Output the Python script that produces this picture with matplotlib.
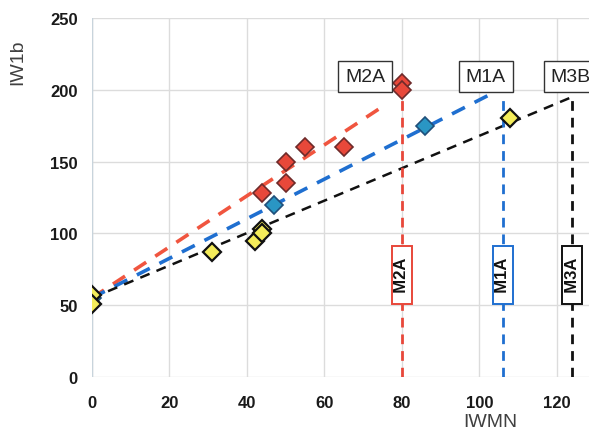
import matplotlib.pyplot as plt

# measured points per group
red_x = [44, 50, 50, 55, 65, 80, 80]
red_y = [128, 150, 135, 160, 160, 205, 200]
blue_x = [0, 47, 86]
blue_y = [55, 120, 175]
yel_x = [0, 0, 31, 42, 44, 44, 108]
yel_y = [57, 51, 87, 95, 103, 100, 180]

# dashed trend lines (start, end)
fit_m2a_x = [0, 76]
fit_m2a_y = [55, 190]
fit_m1a_x = [0, 103]
fit_m1a_y = [55, 197]
fit_m3_x = [0, 124]
fit_m3_y = [55, 195]

# vertical markers: x position and top
vx = [80, 106, 124]
vtop = [200, 194, 195]
vnames = ['M2A', 'M1A', 'M3A']
vcolors = ['#e8473a', '#1f6fd0', '#111111']

# top labels
top_names = ['M2A', 'M1A', 'M3B']
top_x = [70.5, 101.7, 123.5]
top_y = 209

xticks = [0, 20, 40, 60, 80, 100, 120]
yticks = [0, 50, 100, 150, 200, 250]

plt.rcParams['font.family'] = ['Liberation Sans', 'DejaVu Sans']

fig = plt.figure(figsize=(5.89, 4.39), dpi=100)
ax = fig.add_axes([0.156, 0.139, 0.844, 0.818])
ax.set_xlim(0, 128.3)
ax.set_ylim(0, 250)

for s in ax.spines.values():
    s.set_visible(False)
ax.set_xticks(xticks)
ax.set_yticks(yticks)
ax.tick_params(length=0, labelsize=12, colors='#1a1a1a')
ax.tick_params(axis='x', pad=13)
ax.tick_params(axis='y', pad=10)
for lab in ax.get_xticklabels() + ax.get_yticklabels():
    lab.set_fontweight('bold')
ax.grid(True, color='#dcdcdc', linewidth=1)
ax.axvline(0, color='#c8d4dc', linewidth=1, zorder=1)
ax.set_axisbelow(True)

ax.plot(fit_m2a_x, fit_m2a_y, color='#f0553f', linewidth=2.6, dashes=(4, 3), zorder=2)
ax.plot(fit_m1a_x, fit_m1a_y, color='#1f6fd0', linewidth=2.6, dashes=(4, 3), zorder=2)
ax.plot(fit_m3_x, fit_m3_y, color='#111111', linewidth=1.8, dashes=(4, 3), zorder=2)

for x, t, c, n in zip(vx, vtop, vcolors, vnames):
    ax.plot([x, x], [0, t], color=c, linewidth=2, dashes=(3.5, 2.5), zorder=2)
    ax.text(x, 71, '  ' + n + '  ', rotation=90, ha='center', va='center',
            fontsize=12, fontweight='bold', color='#111111', zorder=5,
            bbox=dict(boxstyle='square,pad=0.15', fc='white', ec=c, lw=1.4))

ax.plot(red_x, red_y, 'D', ms=9.5, mfc='#e8483a', mec='#6e2a2a', mew=1.2, zorder=4)
ax.plot(blue_x, blue_y, 'D', ms=9.5, mfc='#2a96c4', mec='#1f4f7a', mew=1.2, zorder=4)
ax.plot(yel_x, yel_y, 'D', ms=9.5, mfc='#f4ec5a', mec='#111111', mew=1.6, zorder=4)

for n, x in zip(top_names, top_x):
    ax.text(x, top_y, n, ha='center', va='center', fontsize=14, color='#222222',
            zorder=6, clip_on=False,
            bbox=dict(boxstyle='square,pad=0.35', fc='white', ec='#333333', lw=1))

fig.text(18 / 589, 1 - 62 / 439, 'IW1b', rotation=90, ha='center', va='center',
         fontsize=14, color='#404040')
fig.text(490 / 589, 1 - 423 / 439, 'IWMN', ha='center', va='center',
         fontsize=14, color='#404040')

fig.savefig('out.png', dpi=100)
